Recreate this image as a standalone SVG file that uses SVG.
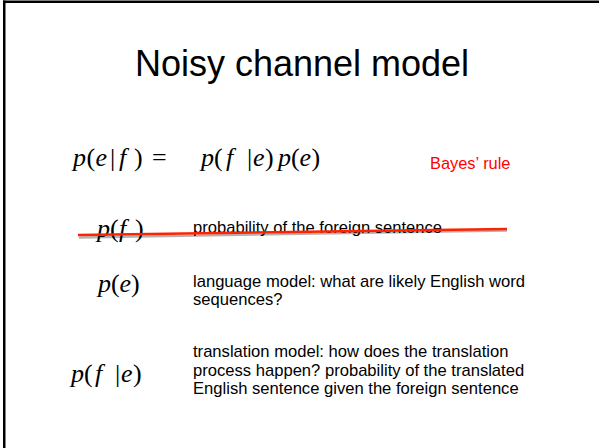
<svg xmlns="http://www.w3.org/2000/svg" width="599" height="448" viewBox="0 0 599 448">
  <defs>
    <style>
      .title { font-family: "Liberation Sans", Arial, sans-serif; font-size: 36px; fill: #000; }
      .body { font-family: "Liberation Sans", Arial, sans-serif; font-size: 16.6px; fill: #000; }
      .note { font-family: "Liberation Sans", Arial, sans-serif; font-size: 16.4px; fill: #ff0000; }
      .math { font-family: "Liberation Serif", "Times New Roman", serif; font-size: 26px; fill: #000; }
      .it { font-style: italic; }
      .strike { stroke: #ff2200; stroke-width: 2.4; stroke-linecap: butt; }
      .strike-shadow { stroke: #000; stroke-opacity: 0.3; stroke-width: 2.4; }
    </style>
  </defs>

  <rect x="0" y="0" width="599" height="448" fill="#ffffff"/>

  <!-- slide frame: top and left edges -->
  <g id="frame">
    <rect x="3" y="0.5" width="596" height="2.5" fill="#000"/>
    <rect x="3" y="0.5" width="2.5" height="447.5" fill="#000"/>
  </g>

  <g id="title">
    <text class="title" x="302" y="76" text-anchor="middle">Noisy channel model</text>
  </g>

  <!-- Bayes' rule equation -->
  <g id="equation">
    <text class="math" y="166">
      <tspan class="it" x="73">p</tspan><tspan x="86.5">(</tspan><tspan class="it" x="95.5">e</tspan><tspan x="110">|</tspan><tspan class="it" x="119">f</tspan><tspan x="134">)</tspan><tspan x="152">=</tspan>
    </text>
    <text class="math" y="166">
      <tspan class="it" x="201">p</tspan><tspan x="214">(</tspan><tspan class="it" x="226">f</tspan><tspan x="247">|</tspan><tspan class="it" x="253">e</tspan><tspan x="265">)</tspan><tspan class="it" x="278">p</tspan><tspan x="291">(</tspan><tspan class="it" x="299.5">e</tspan><tspan x="311.5">)</tspan>
    </text>
  </g>

  <g id="bayes-label">
    <text class="note" x="430" y="169">Bayes’ rule</text>
  </g>

  <!-- p(f): foreign sentence prior, struck out -->
  <g id="term-pf">
    <text class="math" y="237">
      <tspan class="it" x="97">p</tspan><tspan x="110">(</tspan><tspan class="it" x="119">f</tspan><tspan x="135">)</tspan>
    </text>
    <text class="body" x="193" y="233">probability of the foreign sentence</text>
  </g>

  <!-- p(e): language model -->
  <g id="term-pe">
    <text class="math" y="292">
      <tspan class="it" x="98">p</tspan><tspan x="111">(</tspan><tspan class="it" x="119.5">e</tspan><tspan x="131">)</tspan>
    </text>
    <text class="body" x="193" y="287">language model: what are likely English word</text>
    <text class="body" x="193" y="305">sequences?</text>
  </g>

  <!-- p(f|e): translation model -->
  <g id="term-pfe">
    <text class="math" y="382">
      <tspan class="it" x="71">p</tspan><tspan x="84">(</tspan><tspan class="it" x="95">f</tspan><tspan x="115">|</tspan><tspan class="it" x="121">e</tspan><tspan x="133">)</tspan>
    </text>
    <text class="body" x="193" y="357">translation model: how does the translation</text>
    <text class="body" x="193" y="375.5">process happen? probability of the translated</text>
    <text class="body" x="193" y="394">English sentence given the foreign sentence</text>
  </g>

  <!-- red strike-through line with its soft shadow -->
  <g id="connectors">
    <line class="strike-shadow" x1="79" y1="237.5" x2="507" y2="230.5"/>
    <line class="strike" x1="78" y1="235" x2="507" y2="229"/>
  </g>
</svg>
